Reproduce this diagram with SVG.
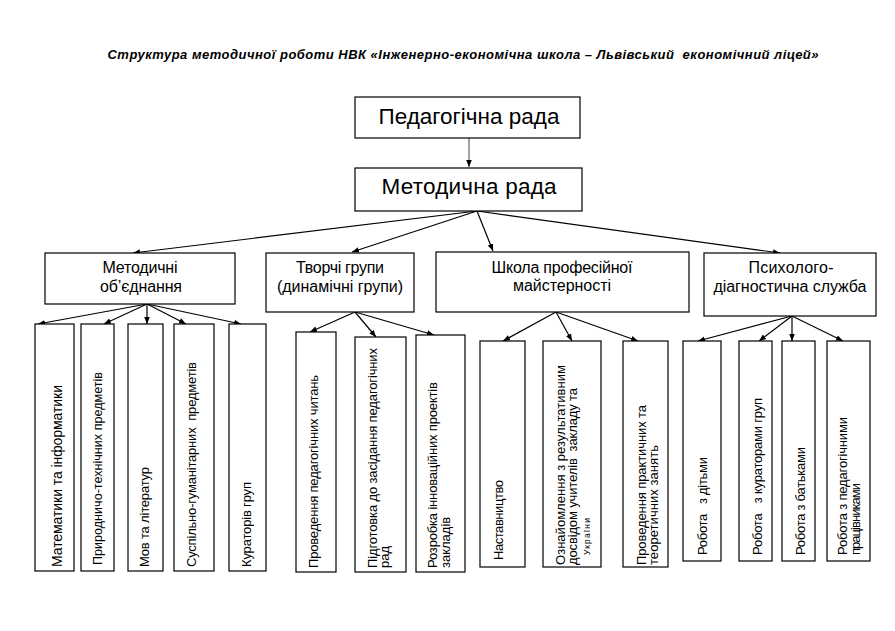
<svg xmlns="http://www.w3.org/2000/svg" width="895" height="631" viewBox="0 0 895 631">
<defs>
<marker id="ah" viewBox="0 0 10 10" refX="10" refY="5" markerWidth="7" markerHeight="7" markerUnits="userSpaceOnUse" orient="auto">
<path d="M0,1 L10,5 L0,9 Z" fill="#000"/>
</marker>
<style>
.box{fill:#fff;stroke:#000;stroke-width:1.2}
.t{font-family:"Liberation Sans",Arial,sans-serif;fill:#000;white-space:pre}
.big{font-size:22.5px;text-anchor:middle}
.mid{font-size:16px;text-anchor:middle}
.sm{font-size:13px}
.title{font-size:13px;font-weight:bold;font-style:italic;text-anchor:middle}
.c{stroke:#000;stroke-width:1.2;fill:none;marker-end:url(#ah)}
</style>
</defs>
<rect width="895" height="631" fill="#fff"/>
<text class="t title" x="463" y="59" textLength="711">Структура методичної роботи НВК «Інженерно-економічна школа – Львівський  економічний ліцей»</text>

<g id="connectors">
<line class="c" x1="469" y1="138" x2="469" y2="167" style="stroke:#444;stroke-width:1"/>
<line class="c" x1="477" y1="211" x2="133" y2="253"/>
<line class="c" x1="477" y1="211" x2="352" y2="252"/>
<line class="c" x1="477" y1="211" x2="493" y2="251"/>
<line class="c" x1="477" y1="211" x2="780" y2="253"/>
<line class="c" x1="147" y1="304" x2="38" y2="324"/>
<line class="c" x1="147" y1="304" x2="104" y2="324"/>
<line class="c" x1="147" y1="304" x2="147" y2="324"/>
<line class="c" x1="147" y1="304" x2="186" y2="324"/>
<line class="c" x1="147" y1="304" x2="241" y2="324"/>
<line class="c" x1="355" y1="312" x2="310" y2="332"/>
<line class="c" x1="355" y1="312" x2="376" y2="337"/>
<line class="c" x1="355" y1="312" x2="434" y2="335"/>
<line class="c" x1="556" y1="312" x2="503" y2="341"/>
<line class="c" x1="556" y1="312" x2="572" y2="341"/>
<line class="c" x1="556" y1="312" x2="638" y2="341"/>
<line class="c" x1="792" y1="316" x2="698" y2="341"/>
<line class="c" x1="792" y1="316" x2="759" y2="341"/>
<line class="c" x1="792" y1="316" x2="792" y2="341"/>
<line class="c" x1="792" y1="316" x2="843" y2="341"/>
</g>

<g id="ped-rada"><rect class="box" x="355" y="97" width="225" height="41"/><text class="t big" x="469" y="124" textLength="181">Педагогічна рада</text></g>
<g id="met-rada"><rect class="box" x="355" y="168" width="227" height="43"/><text class="t big" x="469" y="194" textLength="175">Методична рада</text></g>

<g id="met-ob"><rect class="box" x="45" y="253" width="190" height="51"/><text class="t mid" x="140" y="273" textLength="75">Методичні</text><text class="t mid" x="141" y="292" textLength="82">об’єднання</text></g>
<g id="tvorchi"><rect class="box" x="266" y="253" width="148" height="59"/><text class="t mid" x="340" y="273" textLength="88">Творчі групи</text><text class="t mid" x="340" y="292" textLength="126">(динамічні групи)</text></g>
<g id="shkola"><rect class="box" x="436" y="252" width="253" height="60"/><text class="t mid" x="562" y="273" textLength="141">Школа професійної</text><text class="t mid" x="562" y="291" textLength="98">майстерності</text></g>
<g id="psykh"><rect class="box" x="704" y="253" width="172" height="63"/><text class="t mid" x="791" y="273" textLength="85">Психолого-</text><text class="t mid" x="790" y="292" textLength="153">діагностична служба</text></g>

<g id="m1"><rect class="box" x="35" y="324" width="39" height="247"/><text class="t sm" transform="translate(62,567) rotate(-90)" style="font-size:14px" textLength="182">Математики та інформатики</text></g>
<g id="m2"><rect class="box" x="81" y="324" width="33" height="247"/><text class="t sm" transform="translate(102,565) rotate(-90)" style="font-size:12.5px" textLength="193">Природничо-технічних предметів</text></g>
<g id="m3"><rect class="box" x="128" y="324" width="35" height="247"/><text class="t sm" transform="translate(149,567) rotate(-90)" textLength="100">Мов та літератур</text></g>
<g id="m4"><rect class="box" x="174" y="324" width="40" height="247"/><text class="t sm" transform="translate(196,567) rotate(-90)" textLength="205">Суспільно-гуманітарних  предметів</text></g>
<g id="m5"><rect class="box" x="229" y="324" width="37" height="247"/><text class="t sm" transform="translate(251,567) rotate(-90)" textLength="85">Кураторів груп</text></g>

<g id="t1"><rect class="box" x="296" y="332" width="40" height="240"/><text class="t sm" transform="translate(318,568) rotate(-90)" textLength="193">Проведення педагогічних читань</text></g>
<g id="t2"><rect class="box" x="355" y="337" width="51" height="235"/><text class="t sm" transform="translate(377,568) rotate(-90)" textLength="220">Підготовка до засідання педагогічних</text><text class="t sm" transform="translate(389,568) rotate(-90)">рад</text></g>
<g id="t3"><rect class="box" x="416" y="335" width="49" height="237"/><text class="t sm" transform="translate(437,568) rotate(-90)" textLength="186">Розробка інноваційних проектів</text><text class="t sm" transform="translate(450,568) rotate(-90)">закладів</text></g>

<g id="s1"><rect class="box" x="480" y="341" width="45" height="226"/><text class="t sm" transform="translate(503,560) rotate(-90)" textLength="80">Наставництво</text></g>
<g id="s2"><rect class="box" x="543" y="341" width="58" height="226"/><text class="t sm" transform="translate(565,565) rotate(-90)" textLength="200">Ознайомлення з результативним</text><text class="t sm" transform="translate(577,565) rotate(-90)" textLength="177">досвідом учителів  закладу та</text><text class="t" style="font-size:8.5px" transform="translate(590,555) rotate(-90)" textLength="37">України</text></g>
<g id="s3"><rect class="box" x="623" y="341" width="45" height="226"/><text class="t sm" transform="translate(646,565) rotate(-90)" textLength="160">Проведення практичних та</text><text class="t sm" transform="translate(658,565) rotate(-90)" textLength="120">теоретичних занять</text></g>

<g id="p1"><rect class="box" x="683" y="341" width="38" height="220"/><text class="t sm" transform="translate(707,555) rotate(-90)" textLength="98">Робота   з дітьми</text></g>
<g id="p2"><rect class="box" x="739" y="341" width="33" height="220"/><text class="t sm" transform="translate(762,555) rotate(-90)" textLength="157">Робота   з кураторами груп</text></g>
<g id="p3"><rect class="box" x="782" y="341" width="33" height="220"/><text class="t sm" transform="translate(805,555) rotate(-90)" textLength="108">Робота з батьками</text></g>
<g id="p4"><rect class="box" x="827" y="341" width="43" height="220"/><text class="t sm" transform="translate(847,555) rotate(-90)" textLength="138">Робота з педагогічними</text><text class="t sm" transform="translate(860,555) rotate(-90)" textLength="72">працівниками</text></g>
</svg>
